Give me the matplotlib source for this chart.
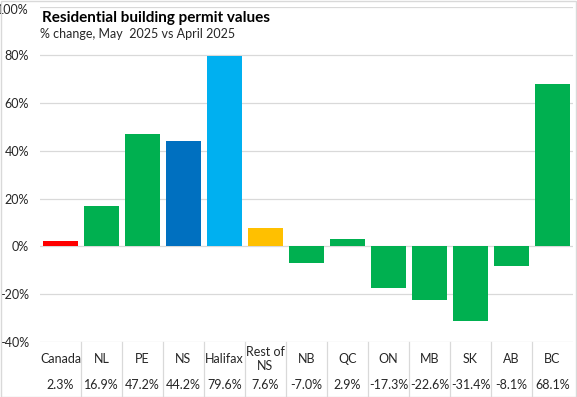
import matplotlib
matplotlib.use("Agg")
import matplotlib.pyplot as plt
from matplotlib.transforms import blended_transform_factory, ScaledTranslation
from matplotlib.lines import Line2D
from matplotlib.patches import Rectangle

categories = ["Canada", "NL", "PE", "NS", "Halifax", "Rest of\nNS", "NB", "QC", "ON", "MB", "SK", "AB", "BC"]
values = [2.3, 16.9, 47.2, 44.2, 79.6, 7.6, -7.0, 2.9, -17.3, -22.6, -31.4, -8.1, 68.1]
value_labels = ["2.3%", "16.9%", "47.2%", "44.2%", "79.6%", "7.6%", "-7.0%", "2.9%", "-17.3%", "-22.6%", "-31.4%", "-8.1%", "68.1%"]
colors = ["#FF0000", "#00B050", "#00B050", "#0070C0", "#00B0F0", "#FFC000", "#00B050",
          "#00B050", "#00B050", "#00B050", "#00B050", "#00B050", "#00B050"]
yticks = [-40, -20, 0, 20, 40, 60, 80, 100]

plt.rcParams['font.family'] = ['Lato', 'DejaVu Sans']
W, H = 577, 397
fig = plt.figure(figsize=(W/100, H/100), dpi=100)
ax = fig.add_axes([40/W, (H-342)/H, (573-40)/W, (342-7.4)/H])

n = len(categories)
x = list(range(n))
ax.bar(x, values, width=0.83, color=colors, zorder=3)
ax.set_xlim(-0.5, n-0.5)
ax.set_ylim(-40, 100)
ax.set_yticks(yticks)
ax.set_yticklabels([f"{t}%" for t in yticks], fontsize=9, color="#262626")
ax.tick_params(axis='y', length=0, pad=8)
ax.set_xticks([])
ax.grid(axis='y', color="#D9D9D9", linewidth=0.9, zorder=0)
for s in ax.spines.values():
    s.set_visible(False)
top_label = ax.get_yticklabels()[-1]
top_label.set_transform(top_label.get_transform() + ScaledTranslation(0, -2/100, fig.dpi_scale_trans))

trans = blended_transform_factory(ax.transData, fig.transFigure)
for i, (c, v) in enumerate(zip(categories, value_labels)):
    ax.text(i, (H-359)/H, c, transform=trans, ha='center', va='center', fontsize=9,
            color="#262626", linespacing=1.25, clip_on=False)
    ax.text(i, (H-385)/H, v, transform=trans, ha='center', va='center', fontsize=9,
            color="#262626", clip_on=False)
for i in range(1, n):
    fig.add_artist(Line2D([i-0.5, i-0.5], [(H-342)/H, (H-396)/H], transform=trans,
                          color="#D9D9D9", linewidth=0.9))

fig.add_artist(Rectangle((0.5/W, 0.5/H), (W-1.5)/W, (H-1.5)/H, transform=fig.transFigure,
                         fill=False, edgecolor="#D9D9D9", linewidth=1))

fig.text(42/W, (H-18)/H, "Residential building permit values", fontsize=11, fontweight='bold',
         ha='left', va='center', color="#000000")
fig.text(40/W, (H-34)/H, "% change, May  2025 vs April 2025", fontsize=9,
         ha='left', va='center', color="#262626")

fig.savefig("out.png", dpi=100)
